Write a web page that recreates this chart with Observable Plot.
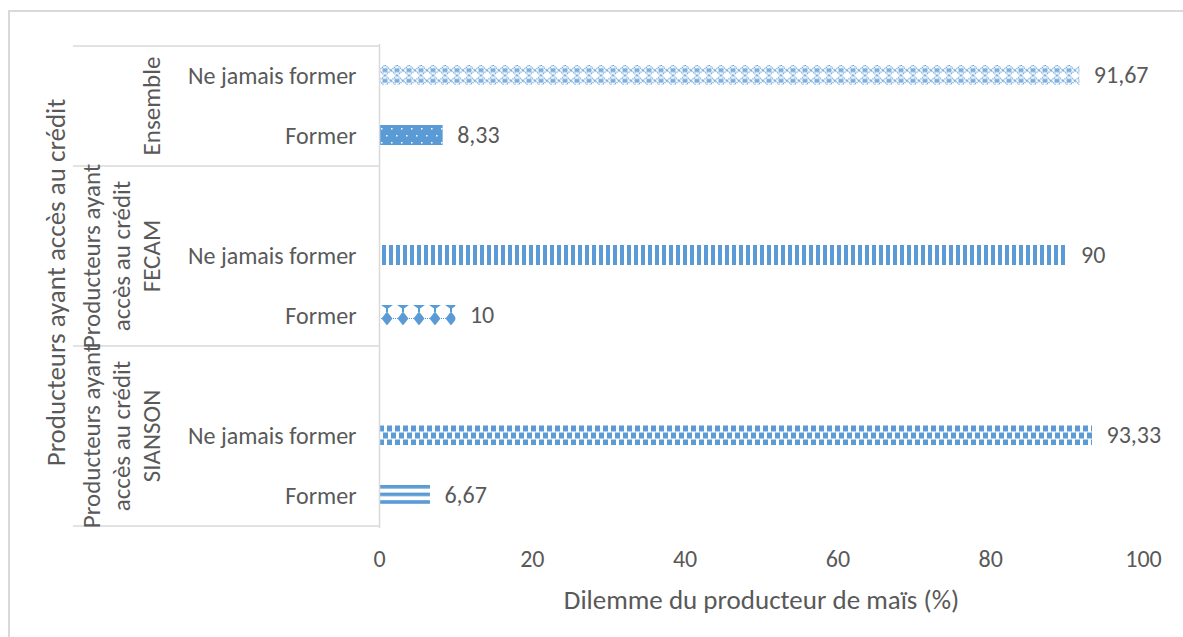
<!DOCTYPE html>
<html><head><meta charset="utf-8">
<script src="https://cdn.jsdelivr.net/npm/d3@7"></script>
<script src="https://cdn.jsdelivr.net/npm/@observablehq/plot@0.6"></script>
<style>html,body{margin:0;padding:0;background:#fff;}</style>
</head><body><div id="chart"></div>
<script>
// ---- data ----
const groups = ["Ensemble", "FECAM", "SIANSON"];
const groupLabels = [
  ["Ensemble"],
  ["Producteurs ayant", "accès au crédit", "FECAM"],
  ["Producteurs ayant", "accès au crédit", "SIANSON"]
];
const categories = ["Ne jamais former", "Former"];
const ensembleValues = [91.67, 8.33];
const fecamValues = [90, 10];
const siansonValues = [93.33, 6.67];
const xTicks = [0, 20, 40, 60, 80, 100];
const xTitle = "Dilemme du producteur de maïs (%)";
const yTitle = "Producteurs ayant accès au crédit";
const groupsWithBlankRow = ["FECAM", "SIANSON"];

// ---- build table ----
const seriesByGroup = {Ensemble: ensembleValues, FECAM: fecamValues, SIANSON: siansonValues};
const rows = [];
const domain = [];
groups.forEach(g => {
  if (groupsWithBlankRow.includes(g)) domain.push(g + "|");
  categories.forEach((c, i) => {
    const key = g + "|" + c;
    domain.push(key);
    rows.push({group: g, category: c, key, value: seriesByGroup[g][i]});
  });
});

// ---- styles ----
const FONT = "Calibri, Carlito, 'Open Sans', sans-serif";
const BLUE = "#5b9bd5";
const TEXT = "#595959";
const GRID = "#d9d9d9";
const patternOf = {
  "Ensemble|Ne jamais former": "pLattice",
  "Ensemble|Former": "pDots",
  "FECAM|Ne jamais former": "pVStripes",
  "FECAM|Former": "pShingle",
  "SIANSON|Ne jamais former": "pChecker",
  "SIANSON|Former": "pHStripes"
};
const INSET_TOP = 19, INSET_BOTTOM = 21;

const plot = Plot.plot({
  width: 1183, height: 637,
  marginLeft: 379, marginRight: 40, marginTop: 44, marginBottom: 109,
  style: {fontFamily: FONT, fontSize: "24px", color: TEXT, background: "white"},
  x: {domain: [0, 100], ticks: xTicks},
  y: {domain, padding: 0},
  color: {type: "identity"},
  marks: [
    Plot.barX(rows, {x: "value", y: "key", fill: d => `url(#${patternOf[d.key]})`, insetTop: INSET_TOP, insetBottom: INSET_BOTTOM}),
    Plot.ruleX([0], {stroke: GRID, strokeWidth: 1.5}),
    Plot.axisX({ticks: xTicks, tickSize: 0, tickPadding: 21, label: null, fontSize: 24}),
    Plot.axisY({tickSize: 0, tickPadding: 23, label: null, tickFormat: k => k.split("|")[1], fontSize: 24}),
    Plot.text(rows, {x: "value", y: "key", text: d => String(d.value).replace(".", ","), dx: 14, dy: -1, textAnchor: "start", fontSize: 24}),
    Plot.text([xTitle], {frameAnchor: "bottom", dy: 72, lineAnchor: "middle", textAnchor: "middle", fontSize: 27}),
    Plot.text([yTitle], {frameAnchor: "left", dx: -323, dy: -4, rotate: -90, textAnchor: "middle", lineAnchor: "middle", fontSize: 27})
  ]
});
document.getElementById("chart").appendChild(plot);

// ---- post-processing using Plot scales ----
const svg = d3.select(plot);
const yS = plot.scale("y"), xS = plot.scale("x");
const bw = yS.bandwidth;
const x0 = xS.apply(0);

// patterns, aligned to each bar's top edge
const defs = svg.insert("defs", ":first-child");
function pat(id, w, h, key) {
  return defs.append("pattern").attr("id", id).attr("patternUnits", "userSpaceOnUse")
    .attr("width", w).attr("height", h).attr("x", x0).attr("y", yS.apply(key) + INSET_TOP);
}
const keyOf = Object.fromEntries(Object.entries(patternOf).map(([k, v]) => [v, k]));
{ // lattice
  const p = pat("pLattice", 12, 10.5, keyOf.pLattice);
  p.append("rect").attr("width", 12).attr("height", 10.5).attr("fill", "white");
  p.append("path").attr("d", "M0,5.25 L6,0 L12,5.25 L6,10.5 Z").attr("fill", "none").attr("stroke", BLUE).attr("stroke-width", 1.2).attr("stroke-dasharray", "1.2,0.8");
  p.append("rect").attr("x", 3.5).attr("y", 3.25).attr("width", 5).attr("height", 4).attr("fill", BLUE).attr("opacity", 0.8);
}
{ // dots
  const p = pat("pDots", 10, 14, keyOf.pDots);
  p.append("rect").attr("width", 10).attr("height", 14).attr("fill", BLUE);
  p.append("rect").attr("x", 2).attr("y", 3).attr("width", 1.5).attr("height", 1.5).attr("fill", "white");
  p.append("rect").attr("x", 7).attr("y", 10).attr("width", 1.5).attr("height", 1.5).attr("fill", "white");
}
{ // vertical stripes
  const p = pat("pVStripes", 7, 10, keyOf.pVStripes);
  p.append("rect").attr("x", 3).attr("width", 4).attr("height", 10).attr("fill", BLUE);
}
{ // shingle
  const p = pat("pShingle", 16, 22, keyOf.pShingle);
  p.append("path").attr("d", "M2,0 H14 L9,3.5 V7 H7 V3.5 Z").attr("fill", BLUE);
  p.append("path").attr("d", "M8,6.5 L13.5,13.5 L8,20.5 L2.5,13.5 Z").attr("fill", BLUE);
  p.append("line").attr("x1", 0).attr("x2", 16).attr("y1", 13.5).attr("y2", 13.5).attr("stroke", BLUE).attr("stroke-dasharray", "1,1");
}
{ // checker
  const p = pat("pChecker", 8, 14, keyOf.pChecker);
  p.append("rect").attr("x", 0).attr("y", 0.5).attr("width", 5).attr("height", 6).attr("fill", BLUE);
  p.append("rect").attr("x", 4).attr("y", 7.5).attr("width", 4).attr("height", 6).attr("fill", BLUE);
  p.append("rect").attr("x", 0).attr("y", 7.5).attr("width", 1).attr("height", 6).attr("fill", BLUE);
}
{ // horizontal stripes
  const p = pat("pHStripes", 10, 7.6, keyOf.pHStripes);
  p.append("rect").attr("width", 10).attr("height", 3.6).attr("fill", BLUE);
}

// chart frame
const frame = svg.append("g").attr("stroke", GRID).attr("stroke-width", 2);
frame.append("line").attr("x1", 8).attr("x2", 1183).attr("y1", 11).attr("y2", 11);
frame.append("line").attr("x1", 9).attr("x2", 9).attr("y1", 10).attr("y2", 637);

// group separators and group labels
const lines = svg.append("g").attr("stroke", GRID).attr("stroke-width", 1.5);
const labels = svg.append("g").attr("fill", TEXT).attr("font-size", 25).attr("text-anchor", "middle");
const boundaries = new Set();
groups.forEach((g, gi) => {
  const keys = domain.filter(k => k.startsWith(g + "|"));
  const top = yS.apply(keys[0]);
  const bottom = yS.apply(keys[keys.length - 1]) + bw;
  boundaries.add(top); boundaries.add(bottom);
  const cy = (top + bottom) / 2;
  const ls = groupLabels[gi];
  ls.forEach((t, i) => {
    const cx = 151 - (ls.length - 1 - i) * 30;
    labels.append("text").attr("transform", `translate(${cx},${cy}) rotate(-90)`).attr("dy", "0.35em").text(t);
  });
});
[...boundaries].forEach(y => lines.append("line").attr("x1", 73).attr("x2", x0).attr("y1", y).attr("y2", y));
</script></body></html>
